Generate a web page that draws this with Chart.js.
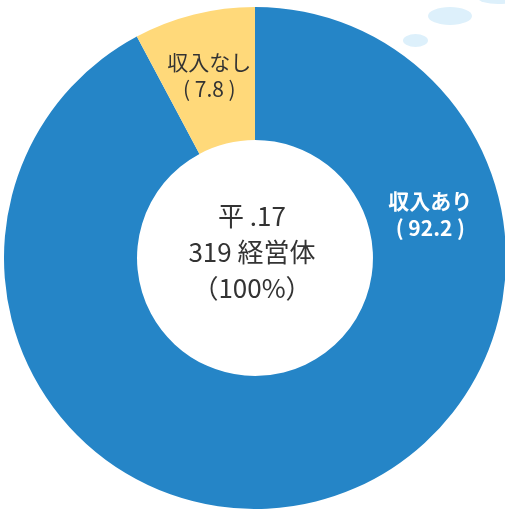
<!DOCTYPE html>
<html lang="ja">
<head>
    <meta charset="UTF-8">
    <title>収入の有無</title>
    <style>
        body {
            margin: 0;
            width: 505px;
            height: 513px;
            overflow: hidden;
            background: #ffffff;
            position: relative;
            font-family: "Noto Sans CJK JP", sans-serif;
        }
        /* 右上の水玉 */
        .bubble {
            position: absolute;
            background: #ddf0fb;
            border-radius: 50%;
        }
        #pie {
            position: absolute;
            left: 4px;
            top: 7px;
        }
    </style>
</head>
<body>
    <div class="bubble" style="left:428px;top:7px;width:44px;height:18px;"></div>
    <div class="bubble" style="left:403px;top:34px;width:25px;height:13px;"></div>
    <div class="bubble" style="left:478px;top:-8px;width:40px;height:12px;"></div>
    <canvas id="pie" width="502" height="502"></canvas>

    <script src="https://cdn.jsdelivr.net/npm/chart.js"></script>
    <script>
        const labels = ['収入あり', '収入なし'];
        const values = [92.2, 7.8];
        const colors = ['#2585c7', '#ffd97a'];
        const centerLines = ['平 .17', '319 経営体', '（100%）'];

        // ラベルの描き方（角度は上から時計回り、度）
        const labelStyle = [
            { color: '#ffffff', weight: 'bold', angle: 76, r: 0.72 },
            { color: '#333333', weight: 'normal', angle: null, r: 0.75 }
        ];

        const sliceLabels = {
            id: 'sliceLabels',
            afterDatasetsDraw(chart) {
                const ctx = chart.ctx;
                const arcs = chart.getDatasetMeta(0).data;
                ctx.save();
                ctx.textAlign = 'center';
                ctx.textBaseline = 'middle';
                arcs.forEach((arc, i) => {
                    const p = arc.getProps(['x', 'y', 'startAngle', 'endAngle', 'outerRadius']);
                    const st = labelStyle[i];
                    let a = (p.startAngle + p.endAngle) / 2;
                    if (st.angle !== null) a = st.angle * Math.PI / 180 - Math.PI / 2;
                    const r = p.outerRadius * st.r;
                    const x = p.x + Math.cos(a) * r;
                    const y = p.y + Math.sin(a) * r;
                    ctx.fillStyle = st.color;
                    ctx.font = st.weight + ' 21px "Noto Sans CJK JP"';
                    ctx.fillText(labels[i], x, y - 13);
                    ctx.fillText('( ' + values[i].toFixed(1) + ' )', x, y + 14);
                });

                // 中央の文字
                const c = arcs[0];
                ctx.fillStyle = '#333333';
                ctx.font = '26px "Noto Sans CJK JP"';
                centerLines.forEach((t, k) => {
                    ctx.fillText(t, c.x - 3, c.y - 42 + k * 36);
                });
                ctx.restore();
            }
        };

        new Chart(document.getElementById('pie'), {
            type: 'doughnut',
            data: {
                labels: labels,
                datasets: [{
                    data: values,
                    backgroundColor: colors,
                    borderWidth: 0,
                    hoverOffset: 0,
                    offset: 0
                }]
            },
            options: {
                responsive: false,
                animation: false,
                cutout: '47%',
                layout: { padding: 0 },
                plugins: {
                    legend: { display: false },
                    tooltip: { enabled: false }
                }
            },
            plugins: [sliceLabels]
        });
    </script>
</body>
</html>
